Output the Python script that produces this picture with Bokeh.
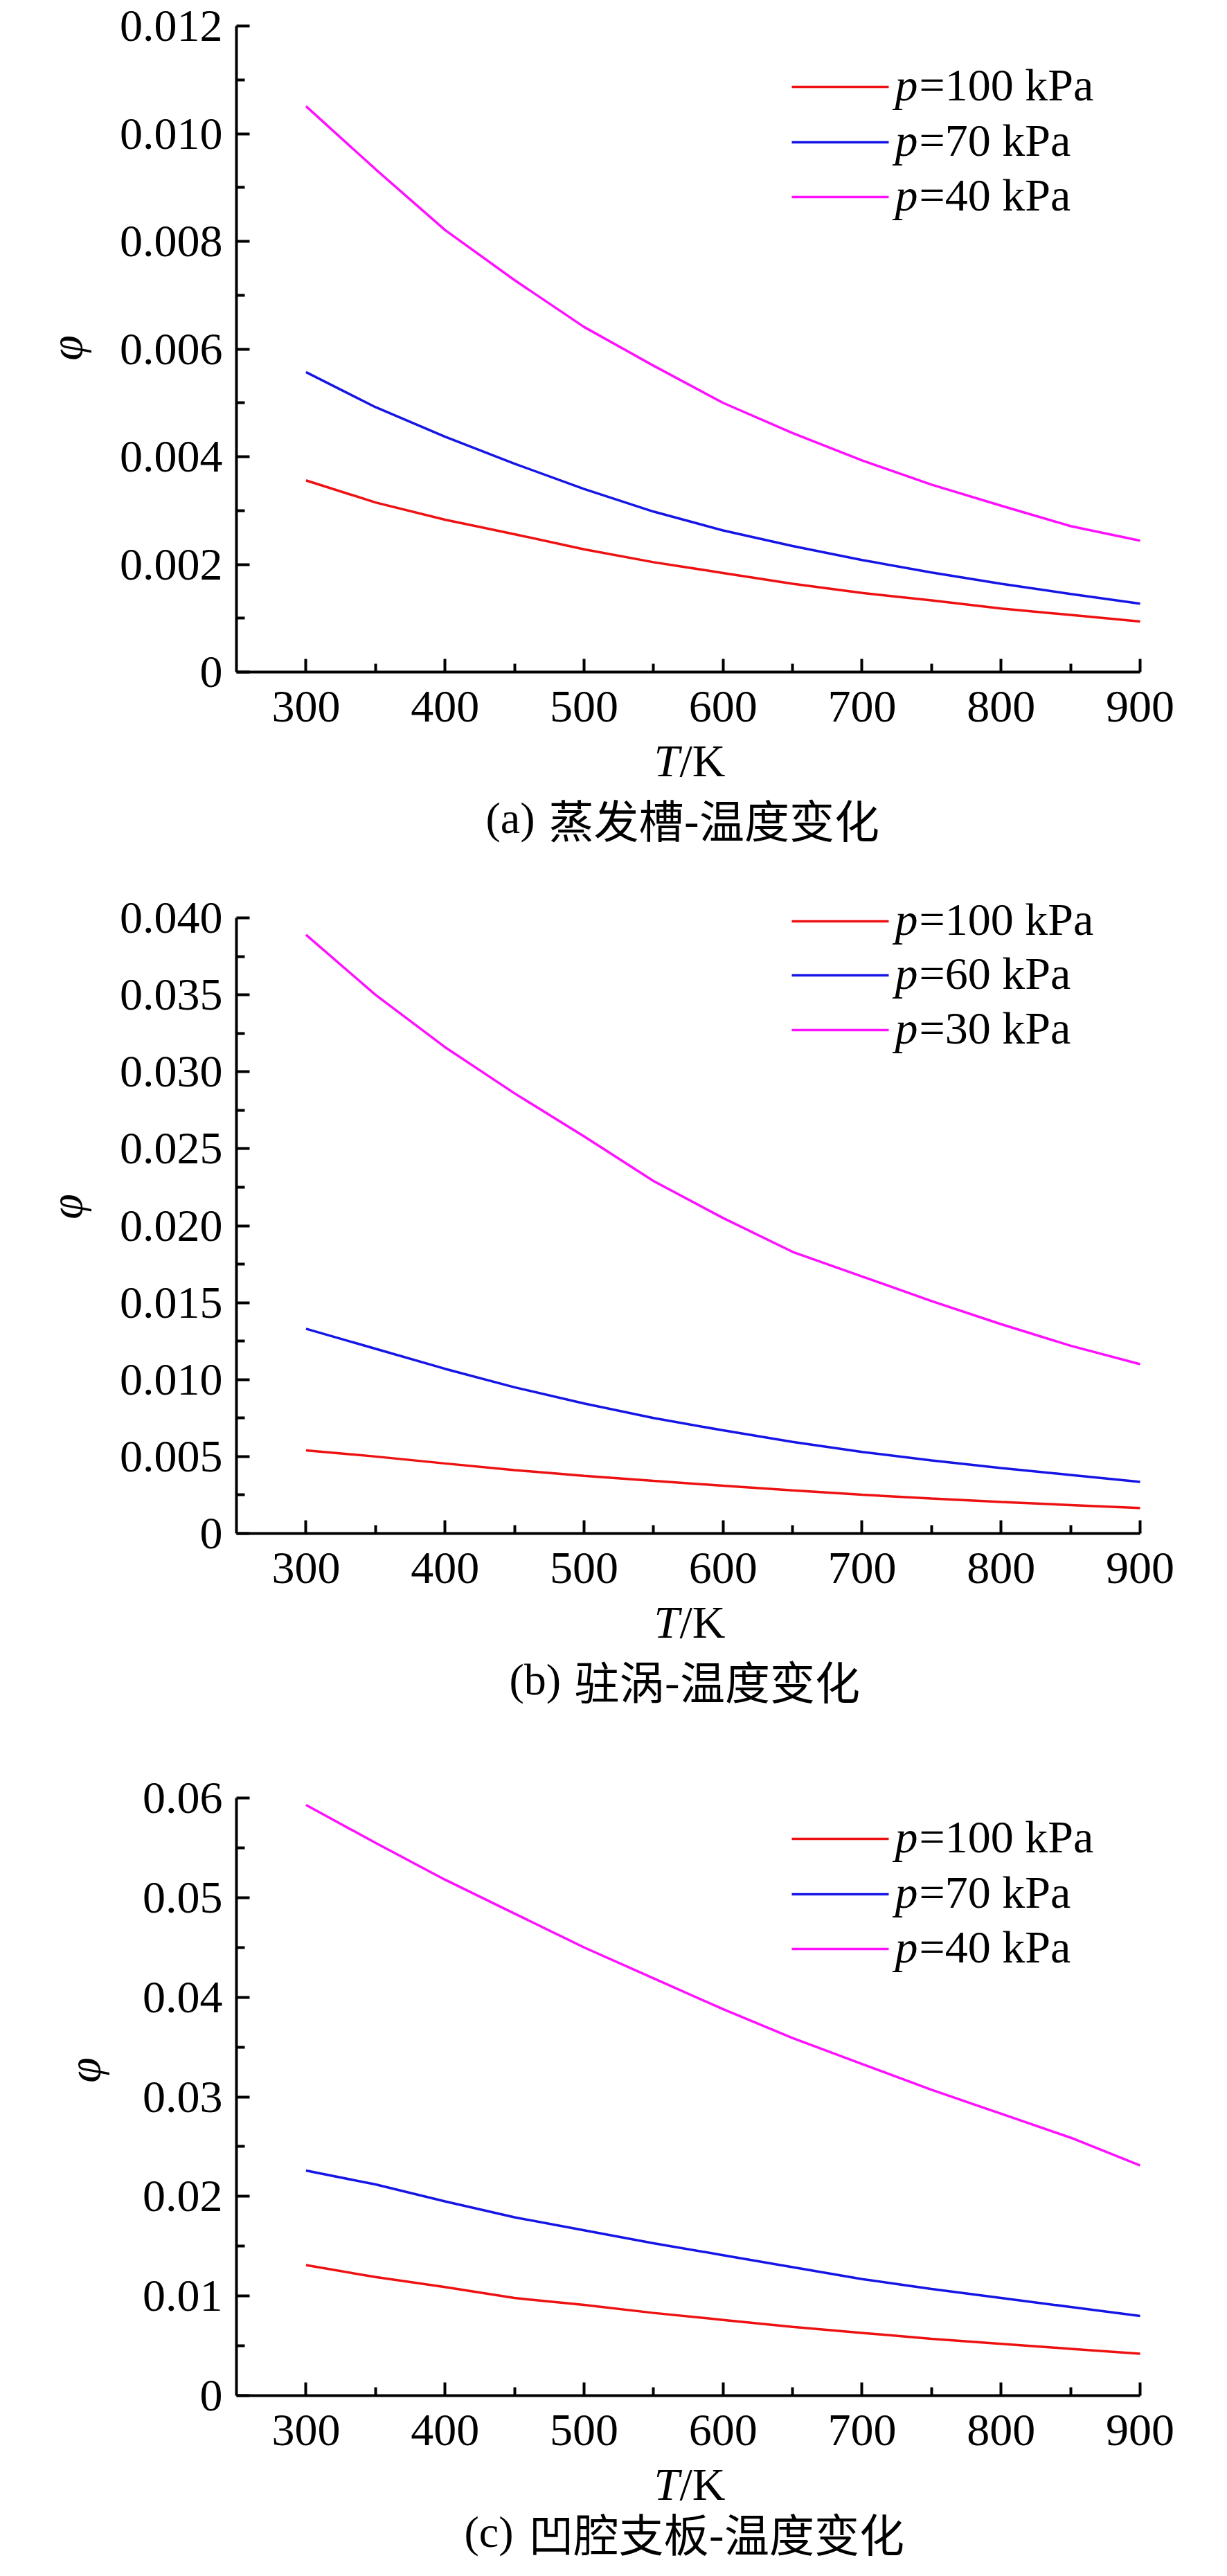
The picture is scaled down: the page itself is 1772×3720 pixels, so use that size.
import math
from bokeh.plotting import figure
from bokeh.models import (Range1d, FixedTicker, CustomJSTickFormatter, Label, Arrow)
from bokeh.layouts import column
from bokeh.embed import file_html
from bokeh.resources import INLINE

# ---------------- data ----------------
T = [300, 350, 400, 450, 500, 550, 600, 650, 700, 750, 800, 850, 900]

a_p100 = [0.00356, 0.00315, 0.00283, 0.00256, 0.00228, 0.00204, 0.00184, 0.00164, 0.00147, 0.00133, 0.00118, 0.00106, 0.00094]
a_p70 = [0.00557, 0.00492, 0.00437, 0.00387, 0.00340, 0.00298, 0.00263, 0.00234, 0.00208, 0.00185, 0.00164, 0.00145, 0.00127]
a_p40 = [0.01051, 0.00934, 0.00821, 0.00728, 0.00641, 0.00569, 0.00500, 0.00444, 0.00393, 0.00348, 0.00309, 0.00271, 0.00244]

b_p100 = [0.0054, 0.0050, 0.00455, 0.00412, 0.00375, 0.00342, 0.0031, 0.0028, 0.00252, 0.00227, 0.00205, 0.00185, 0.00165]
b_p60 = [0.0133, 0.0120, 0.0107, 0.0095, 0.00845, 0.0075, 0.0067, 0.00595, 0.0053, 0.00475, 0.00425, 0.0038, 0.00335]
b_p30 = [0.0389, 0.0350, 0.0316, 0.0286, 0.0258, 0.0229, 0.0205, 0.0183, 0.0167, 0.0151, 0.0136, 0.0122, 0.0110]

c_p100 = [0.0131, 0.0119, 0.0109, 0.0098, 0.0091, 0.0083, 0.0076, 0.0069, 0.0063, 0.0057, 0.0052, 0.0047, 0.0042]
c_p70 = [0.0226, 0.0212, 0.0195, 0.0179, 0.0166, 0.0153, 0.0141, 0.0129, 0.0117, 0.0107, 0.0098, 0.0089, 0.0080]
c_p40 = [0.0593, 0.0555, 0.0518, 0.0484, 0.0450, 0.0419, 0.0388, 0.0359, 0.0333, 0.0307, 0.0283, 0.0259, 0.0231]

x_ticks = [300, 400, 500, 600, 700, 800, 900]
x_minor = [350, 450, 550, 650, 750, 850]
x_labels = ["300", "400", "500", "600", "700", "800", "900"]

a_yticks = [0, 0.002, 0.004, 0.006, 0.008, 0.010, 0.012]
a_yminor = [0.001, 0.003, 0.005, 0.007, 0.009, 0.011]
a_ylabels = ["0", "0.002", "0.004", "0.006", "0.008", "0.010", "0.012"]

b_yticks = [0, 0.005, 0.010, 0.015, 0.020, 0.025, 0.030, 0.035, 0.040]
b_yminor = [0.0025, 0.0075, 0.0125, 0.0175, 0.0225, 0.0275, 0.0325, 0.0375]
b_ylabels = ["0", "0.005", "0.010", "0.015", "0.020", "0.025", "0.030", "0.035", "0.040"]

c_yticks = [0, 0.01, 0.02, 0.03, 0.04, 0.05, 0.06]
c_yminor = [0.005, 0.015, 0.025, 0.035, 0.045, 0.055]
c_ylabels = ["0", "0.01", "0.02", "0.03", "0.04", "0.05", "0.06"]

a_names = ["=100 kPa", "=70 kPa", "=40 kPa"]
b_names = ["=100 kPa", "=60 kPa", "=30 kPa"]
c_names = ["=100 kPa", "=70 kPa", "=40 kPa"]

a_caption = ("(a)", "蒸发槽-温度变化")
b_caption = ("(b)", "驻涡-温度变化")
c_caption = ("(c)", "凹腔支板-温度变化")

colors = ["#ee1111", "#1515e6", "#ff10ff"]

SERIF = "Liberation Serif"
CJK = "Noto Sans CJK SC"
FS = "66px"

FIG_W = 1756
LEFT, RIGHT = 349, 1654  # plot area (axes box) in page pixels
X0, X1 = 250, 900


def fmt(tv, lv):
    return CustomJSTickFormatter(args=dict(tv=tv, lv=lv), code="""
        const i = tv.findIndex(t => Math.abs(t - tick) < 1e-9);
        return i < 0 ? "" : lv[i];
    """)


def make_panel(fig_top, fig_h, top, bottom, ymax, series, names, yt, ym, yl,
               caption, cap_lx, cap_cx, cap_dy, legend_y, phi_xy):
    fw = RIGHT - LEFT
    fh = bottom - top

    def d(X, Y):
        # page pixel -> data coordinate
        x = X0 + (X - LEFT) / fw * (X1 - X0)
        y = (bottom - Y) / fh * ymax
        return x, y

    xs, ys0 = d(8, fig_top + fig_h)
    xe, ye0 = d(8 + FIG_W, fig_top)
    p = figure(width=FIG_W, height=fig_h, output_backend="svg", toolbar_location=None,
               x_range=Range1d(xs, xe), y_range=Range1d(ys0, ye0),
               min_border=0, min_border_left=0, min_border_right=0,
               min_border_top=0, min_border_bottom=0)
    p.outline_line_color = None
    p.grid.visible = False
    p.background_fill_color = "white"
    p.border_fill_color = "white"

    for ys, c in zip(series, colors):
        p.line(T, ys, line_color=c, line_width=3.5)

    for ax in (p.xaxis[0], p.yaxis[0]):
        ax.axis_line_width = 4
        ax.axis_line_color = "black"
        ax.major_tick_line_width = 4
        ax.minor_tick_line_width = 4
        ax.major_tick_line_color = "black"
        ax.minor_tick_line_color = "black"
        ax.major_tick_in = 19
        ax.major_tick_out = 0
        ax.minor_tick_in = 12
        ax.minor_tick_out = 0
        ax.major_label_text_font = SERIF
        ax.major_label_text_font_size = FS
        ax.major_label_text_color = "black"
    p.xaxis.fixed_location = 0
    p.xaxis.bounds = (X0, X1)
    p.xaxis.ticker = FixedTicker(ticks=x_ticks, minor_ticks=x_minor)
    p.xaxis.formatter = fmt(x_ticks, x_labels)
    p.xaxis.major_label_standoff = 28
    p.yaxis.fixed_location = X0
    p.yaxis.bounds = (0, ymax)
    p.yaxis.ticker = FixedTicker(ticks=yt, minor_ticks=ym)
    p.yaxis.formatter = fmt(yt, yl)
    p.yaxis.major_label_standoff = 20

    def lab(X, Y, text, font=SERIF, size=FS, style="normal", align="left", angle=0.0):
        x, y = d(X, Y)
        p.add_layout(Label(x=x, y=y, text=text, text_font=font, text_font_size=size,
                           text_font_style=style, text_color="black",
                           text_baseline="middle", text_align=align, angle=angle))

    # legend
    for i, (c, nm) in enumerate(zip(colors, names)):
        ly = legend_y[i]
        x0, y0 = d(1151, ly)
        x1, _ = d(1291, ly)
        p.add_layout(Arrow(end=None, x_start=x0, y_start=y0, x_end=x1, y_end=y0,
                           line_color=c, line_width=3.5))
        lab(1300, ly - 3, "p", style="italic")
        lab(1335, ly - 3, nm)

    # x axis title  T/K
    lab(952, bottom + 128, "T", style="italic")
    lab(989, bottom + 128, "/K")

    # y axis title  phi
    lab(phi_xy[0], phi_xy[1], "φ", style="italic", align="center", angle=math.pi / 2)

    # caption
    lab(cap_lx, bottom + cap_dy, caption[0], size="64px")
    lab(cap_cx, bottom + cap_dy, caption[1], font=CJK, size="65px")
    return p


pa = make_panel(8, 1240, 45, 978, 0.012, [a_p100, a_p70, a_p40], a_names,
                a_yticks, a_yminor, a_ylabels, a_caption, 709, 800, 211,
                [133, 213, 292], (103, 510))
pb = make_panel(1248, 1240, 1333, 2222, 0.040, [b_p100, b_p60, b_p30], b_names,
                b_yticks, b_yminor, b_ylabels, b_caption, 743, 837, 211,
                [1338, 1416, 1495], (103, 1750))
pc = make_panel(2488, 1224, 2604, 3467, 0.06, [c_p100, c_p70, c_p40], c_names,
                c_yticks, c_yminor, c_ylabels, c_caption, 678, 771, 197,
                [2663, 2743, 2822], (129, 2997))

layout = column(pa, pb, pc, spacing=0)
open("out.html", "w").write(file_html(layout, INLINE))
